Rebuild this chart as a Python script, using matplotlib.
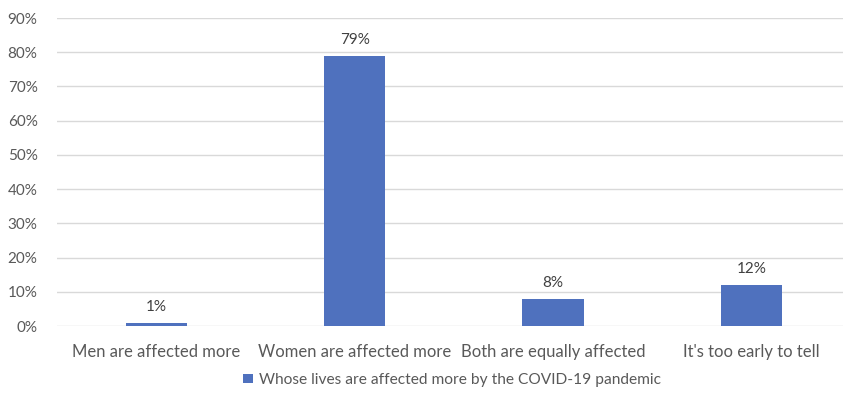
import numpy as np
from matplotlib import pyplot as plt

categories = ["Men are affected more", "Women are affected more",
              "Both are equally affected", "It's too early to tell"]
values = [1, 79, 8, 12]
series_name = "Whose lives are affected more by the COVID-19 pandemic"

plt.rcParams['font.family'] = ['Lato', 'DejaVu Sans']
txt = '#595959'

fig = plt.figure(figsize=(8.45, 4), dpi=100)
ax = fig.add_axes([0.0675, 0.185, 0.93, 0.77])

x = np.arange(len(categories))
bars = ax.bar(x, np.array(values) / 100, width=0.31, color='#4F71BE',
              label=series_name, zorder=3)
for xi, v in zip(x, values):
    ax.text(xi, v / 100 + 0.025, f"{v}%", ha='center', va='bottom',
            fontsize=11, color='#404040')

ax.set_ylim(0, 0.9)
ax.set_xlim(-0.5, 3.46)
ax.set_yticks(np.arange(0, 0.91, 0.1))
ax.set_yticklabels([f"{int(round(t*100))}%" for t in np.arange(0, 0.91, 0.1)])
ax.set_xticks(x)
ax.set_xticklabels(categories)
ax.tick_params(axis='both', length=0, colors=txt, labelsize=12)
ax.tick_params(axis='y', pad=14, labelsize=11)
ax.tick_params(axis='x', pad=13)
ax.grid(axis='y', color='#D9D9D9', linewidth=1, zorder=0)
for s in ax.spines.values():
    s.set_visible(False)

leg = fig.legend(handles=[bars], labels=[series_name], loc='center',
                 bbox_to_anchor=(0.535, 0.05), frameon=False, fontsize=11.2,
                 handlelength=0.6, handleheight=0.6, handletextpad=0.4)
for t in leg.get_texts():
    t.set_color(txt)

fig.savefig('out.png', dpi=100)
